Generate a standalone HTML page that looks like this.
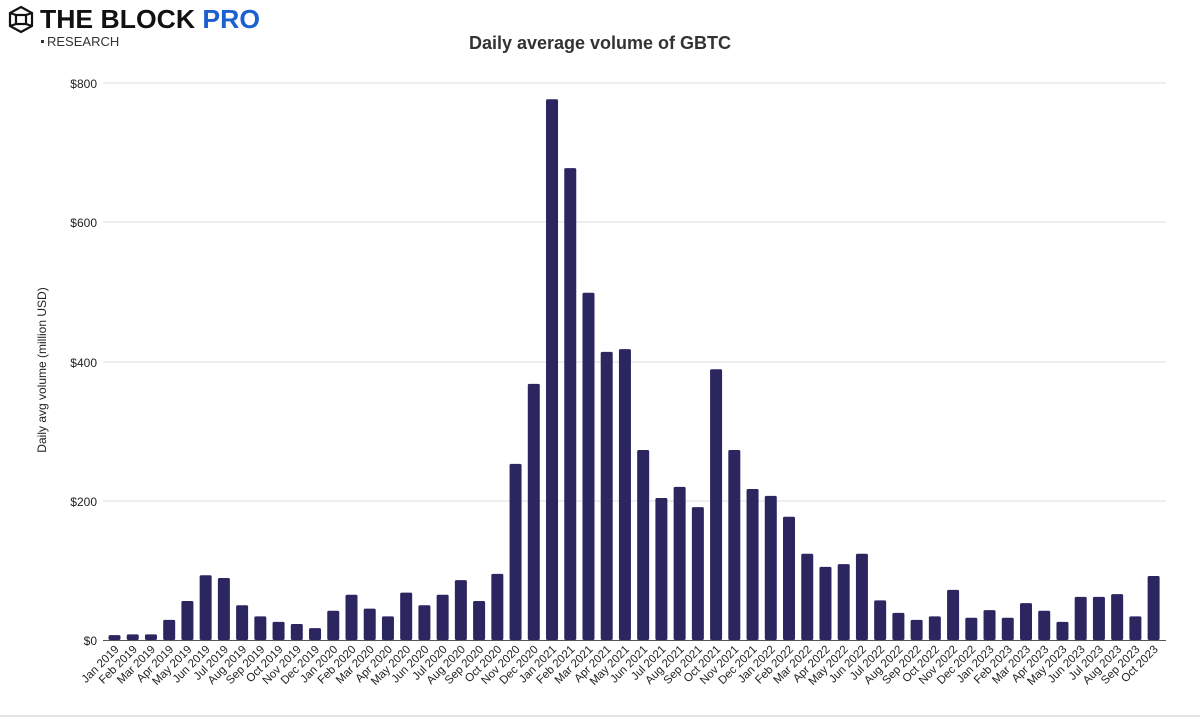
<!DOCTYPE html>
<html><head><meta charset="utf-8"><style>
body{margin:0;background:#fff;width:1200px;height:718px;overflow:hidden;font-family:"Liberation Sans",sans-serif}
</style></head><body>
<svg width="1200" height="718" xmlns="http://www.w3.org/2000/svg" font-family="Liberation Sans, sans-serif">
<rect width="1200" height="718" fill="#fff"/>
<g transform="translate(8,6)" stroke="#111" stroke-width="2.2" fill="none">
<polygon points="13,1 24,7 24,20 13,26 2,20 2,7"/>
<rect x="8" y="9" width="10" height="9"/>
<line x1="2" y1="7" x2="8" y2="9"/><line x1="24" y1="7" x2="18" y2="9"/>
<line x1="2" y1="20" x2="8" y2="18"/><line x1="24" y1="20" x2="18" y2="18"/>
</g>
<text x="40" y="28" font-size="26" font-weight="bold" fill="#111" textLength="220" lengthAdjust="spacingAndGlyphs">THE BLOCK <tspan fill="#1b5fd0">PRO</tspan></text>
<rect x="41" y="40" width="3" height="3" fill="#333"/>
<text x="47" y="46" font-size="13" fill="#333">RESEARCH</text>
<text x="600" y="49" font-size="18" font-weight="bold" text-anchor="middle" fill="#333">Daily average volume of GBTC</text>
<g stroke="#ddd" stroke-width="1">
<line x1="103" y1="83" x2="1166" y2="83"/><line x1="103" y1="222" x2="1166" y2="222"/>
<line x1="103" y1="362" x2="1166" y2="362"/><line x1="103" y1="501" x2="1166" y2="501"/>
</g>
<line x1="103" y1="640.5" x2="1166" y2="640.5" stroke="#555"/>
<g font-size="12" fill="#222" text-anchor="end">
<text x="97" y="88">$800</text><text x="97" y="227">$600</text><text x="97" y="367">$400</text><text x="97" y="506">$200</text><text x="97" y="645">$0</text>
</g>
<text transform="translate(46,370) rotate(-90)" font-size="12" text-anchor="middle" fill="#222">Daily avg volume (million USD)</text>
<g id="bars" fill="#2b2560"></g>
<g id="labels" font-size="11.5" fill="#222" text-anchor="end"></g>
<line x1="0" y1="716" x2="1200" y2="716" stroke="#e4e4e4" stroke-width="2"/>
</svg>
<script>
var v=[7,8,8,29,56,93,89,50,34,26,23,17,42,65,45,34,68,50,65,86,56,95,253,368,777,678,499,414,418,273,204,220,191,389,273,217,207,177,124,105,109,124,57,39,29,34,72,32,43,32,53,42,26,62,62,66,34,92];
var m=["Jan","Feb","Mar","Apr","May","Jun","Jul","Aug","Sep","Oct","Nov","Dec"];
var b=document.getElementById("bars"),l=document.getElementById("labels"),ns="http://www.w3.org/2000/svg";
for(var i=0;i<v.length;i++){var cx=114.5+i*18.23,h=v[i]*0.696;
var r=document.createElementNS(ns,"rect");r.setAttribute("x",cx-6);r.setAttribute("y",640-h);r.setAttribute("width",12);r.setAttribute("height",h);r.setAttribute("rx",1.5);b.appendChild(r);
var t=document.createElementNS(ns,"text");t.setAttribute("transform","translate("+(cx+5)+",650) rotate(-45)");t.textContent=m[i%12]+" "+(2019+Math.floor(i/12));l.appendChild(t);}
</script>
</body></html>
